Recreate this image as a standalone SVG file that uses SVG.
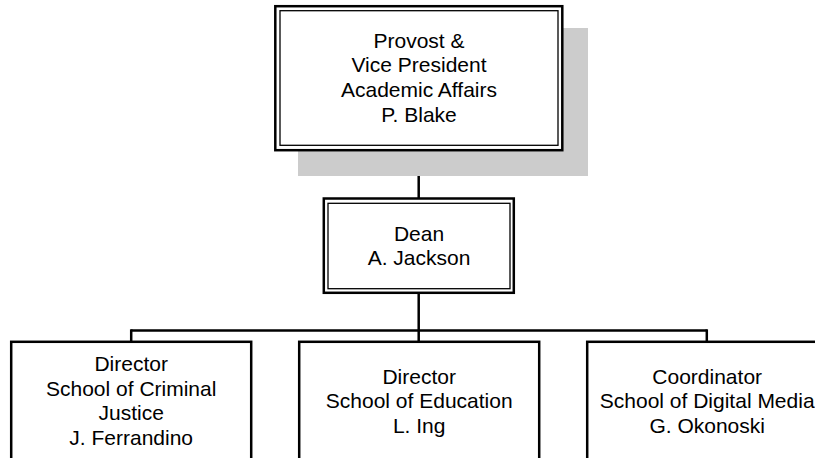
<svg xmlns="http://www.w3.org/2000/svg" width="815" height="458" viewBox="0 0 815 458">
  <style>
    .outer { fill: #ffffff; stroke: #000000; stroke-width: 2.5; }
    .inner { fill: none; stroke: #000000; stroke-width: 1.3; }
    .shadow { fill: #cccccc; stroke: none; }
    .conn { fill: none; stroke: #000000; stroke-width: 2.5; }
    .lbl { font-family: "Liberation Sans", Arial, sans-serif; font-size: 21px; fill: #000000; text-anchor: middle; }
  </style>
  <rect width="815" height="458" fill="#ffffff"/>
  <g id="connectors">
    <line class="conn" x1="418.7" y1="150" x2="418.7" y2="199"/>
    <line class="conn" x1="418.7" y1="292" x2="418.7" y2="342"/>
    <line class="conn" x1="131.2" y1="330.5" x2="706.8" y2="330.5"/>
    <line class="conn" x1="131.2" y1="329.3" x2="131.2" y2="342"/>
    <line class="conn" x1="706.8" y1="329.3" x2="706.8" y2="342"/>
  </g>
  <g id="provost">
    <rect class="shadow" x="298" y="28" width="290" height="148"/>
    <rect class="outer" x="275.3" y="6.2" width="287" height="144"/>
    <rect class="inner" x="280" y="10.7" width="278" height="134.6"/>
    <text class="lbl" x="419" y="47.5">Provost &amp;</text>
    <text class="lbl" x="419" y="72.2">Vice President</text>
    <text class="lbl" x="419" y="96.9">Academic Affairs</text>
    <text class="lbl" x="419" y="121.6">P. Blake</text>
  </g>
  <g id="dean">
    <rect class="outer" x="323.8" y="198.5" width="190" height="94.3"/>
    <rect class="inner" x="328" y="203.3" width="182" height="85.4"/>
    <text class="lbl" x="419" y="240.5">Dean</text>
    <text class="lbl" x="419" y="265.2">A. Jackson</text>
  </g>
  <g id="criminal-justice">
    <rect class="outer" x="11.2" y="341.8" width="240" height="200"/>
    <text class="lbl" x="131.2" y="371">Director</text>
    <text class="lbl" x="131.2" y="395.7">School of Criminal</text>
    <text class="lbl" x="131.2" y="420.4">Justice</text>
    <text class="lbl" x="131.2" y="445.1">J. Ferrandino</text>
  </g>
  <g id="education">
    <rect class="outer" x="299.2" y="341.8" width="240" height="200"/>
    <text class="lbl" x="419.2" y="383.5">Director</text>
    <text class="lbl" x="419.2" y="408.2">School of Education</text>
    <text class="lbl" x="419.2" y="432.9">L. Ing</text>
  </g>
  <g id="digital-media">
    <rect class="outer" x="587.2" y="341.8" width="240" height="200"/>
    <text class="lbl" x="707.2" y="383.5">Coordinator</text>
    <text class="lbl" x="707.2" y="408.2">School of Digital Media</text>
    <text class="lbl" x="707.2" y="432.9">G. Okonoski</text>
  </g>
</svg>
